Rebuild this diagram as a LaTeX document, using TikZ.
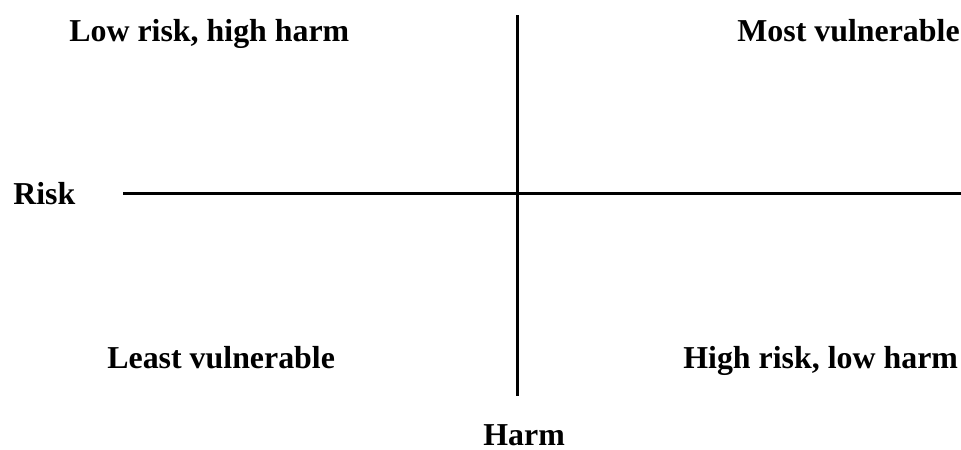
\documentclass[tikz,border=0pt]{standalone}
\usepackage{fontspec}
\setmainfont{Liberation Serif}
\usepackage{tikz}
\usetikzlibrary{positioning}

\begin{document}
\begin{tikzpicture}[
    x=0.02cm, y=-0.02cm,
    quadlabel/.style={inner sep=0pt, anchor=base west,
                      font=\fontsize{18.15}{22}\selectfont\bfseries},
    axislabel/.style={quadlabel},
    axisline/.style={line width=0.06cm, draw=black}
]
\useasboundingbox (0,0) rectangle (961,450);

% axis ends
\coordinate (hleft) at (123,193);
\coordinate (hright) at (961,193);
\coordinate (vtop) at (517,15);
\coordinate (vbottom) at (517,396);

\draw[axisline] (hleft) -- (hright);
\draw[axisline] (vtop) -- (vbottom);

% axis labels
\node[axislabel] (risk) at (13,204) {Risk};
\node[axislabel] (harm) at (483,445) {Harm};

% quadrant labels
\node[quadlabel] (lowhigh) at (69,41) {Low risk, high harm};
\node[quadlabel] (mostvul) at (737,41) {Most vulnerable};
\node[quadlabel] (leastvul) at (107,368) {Least vulnerable};
\node[quadlabel] (highlow) at (683,368) {High risk, low harm};

\end{tikzpicture}
\end{document}
